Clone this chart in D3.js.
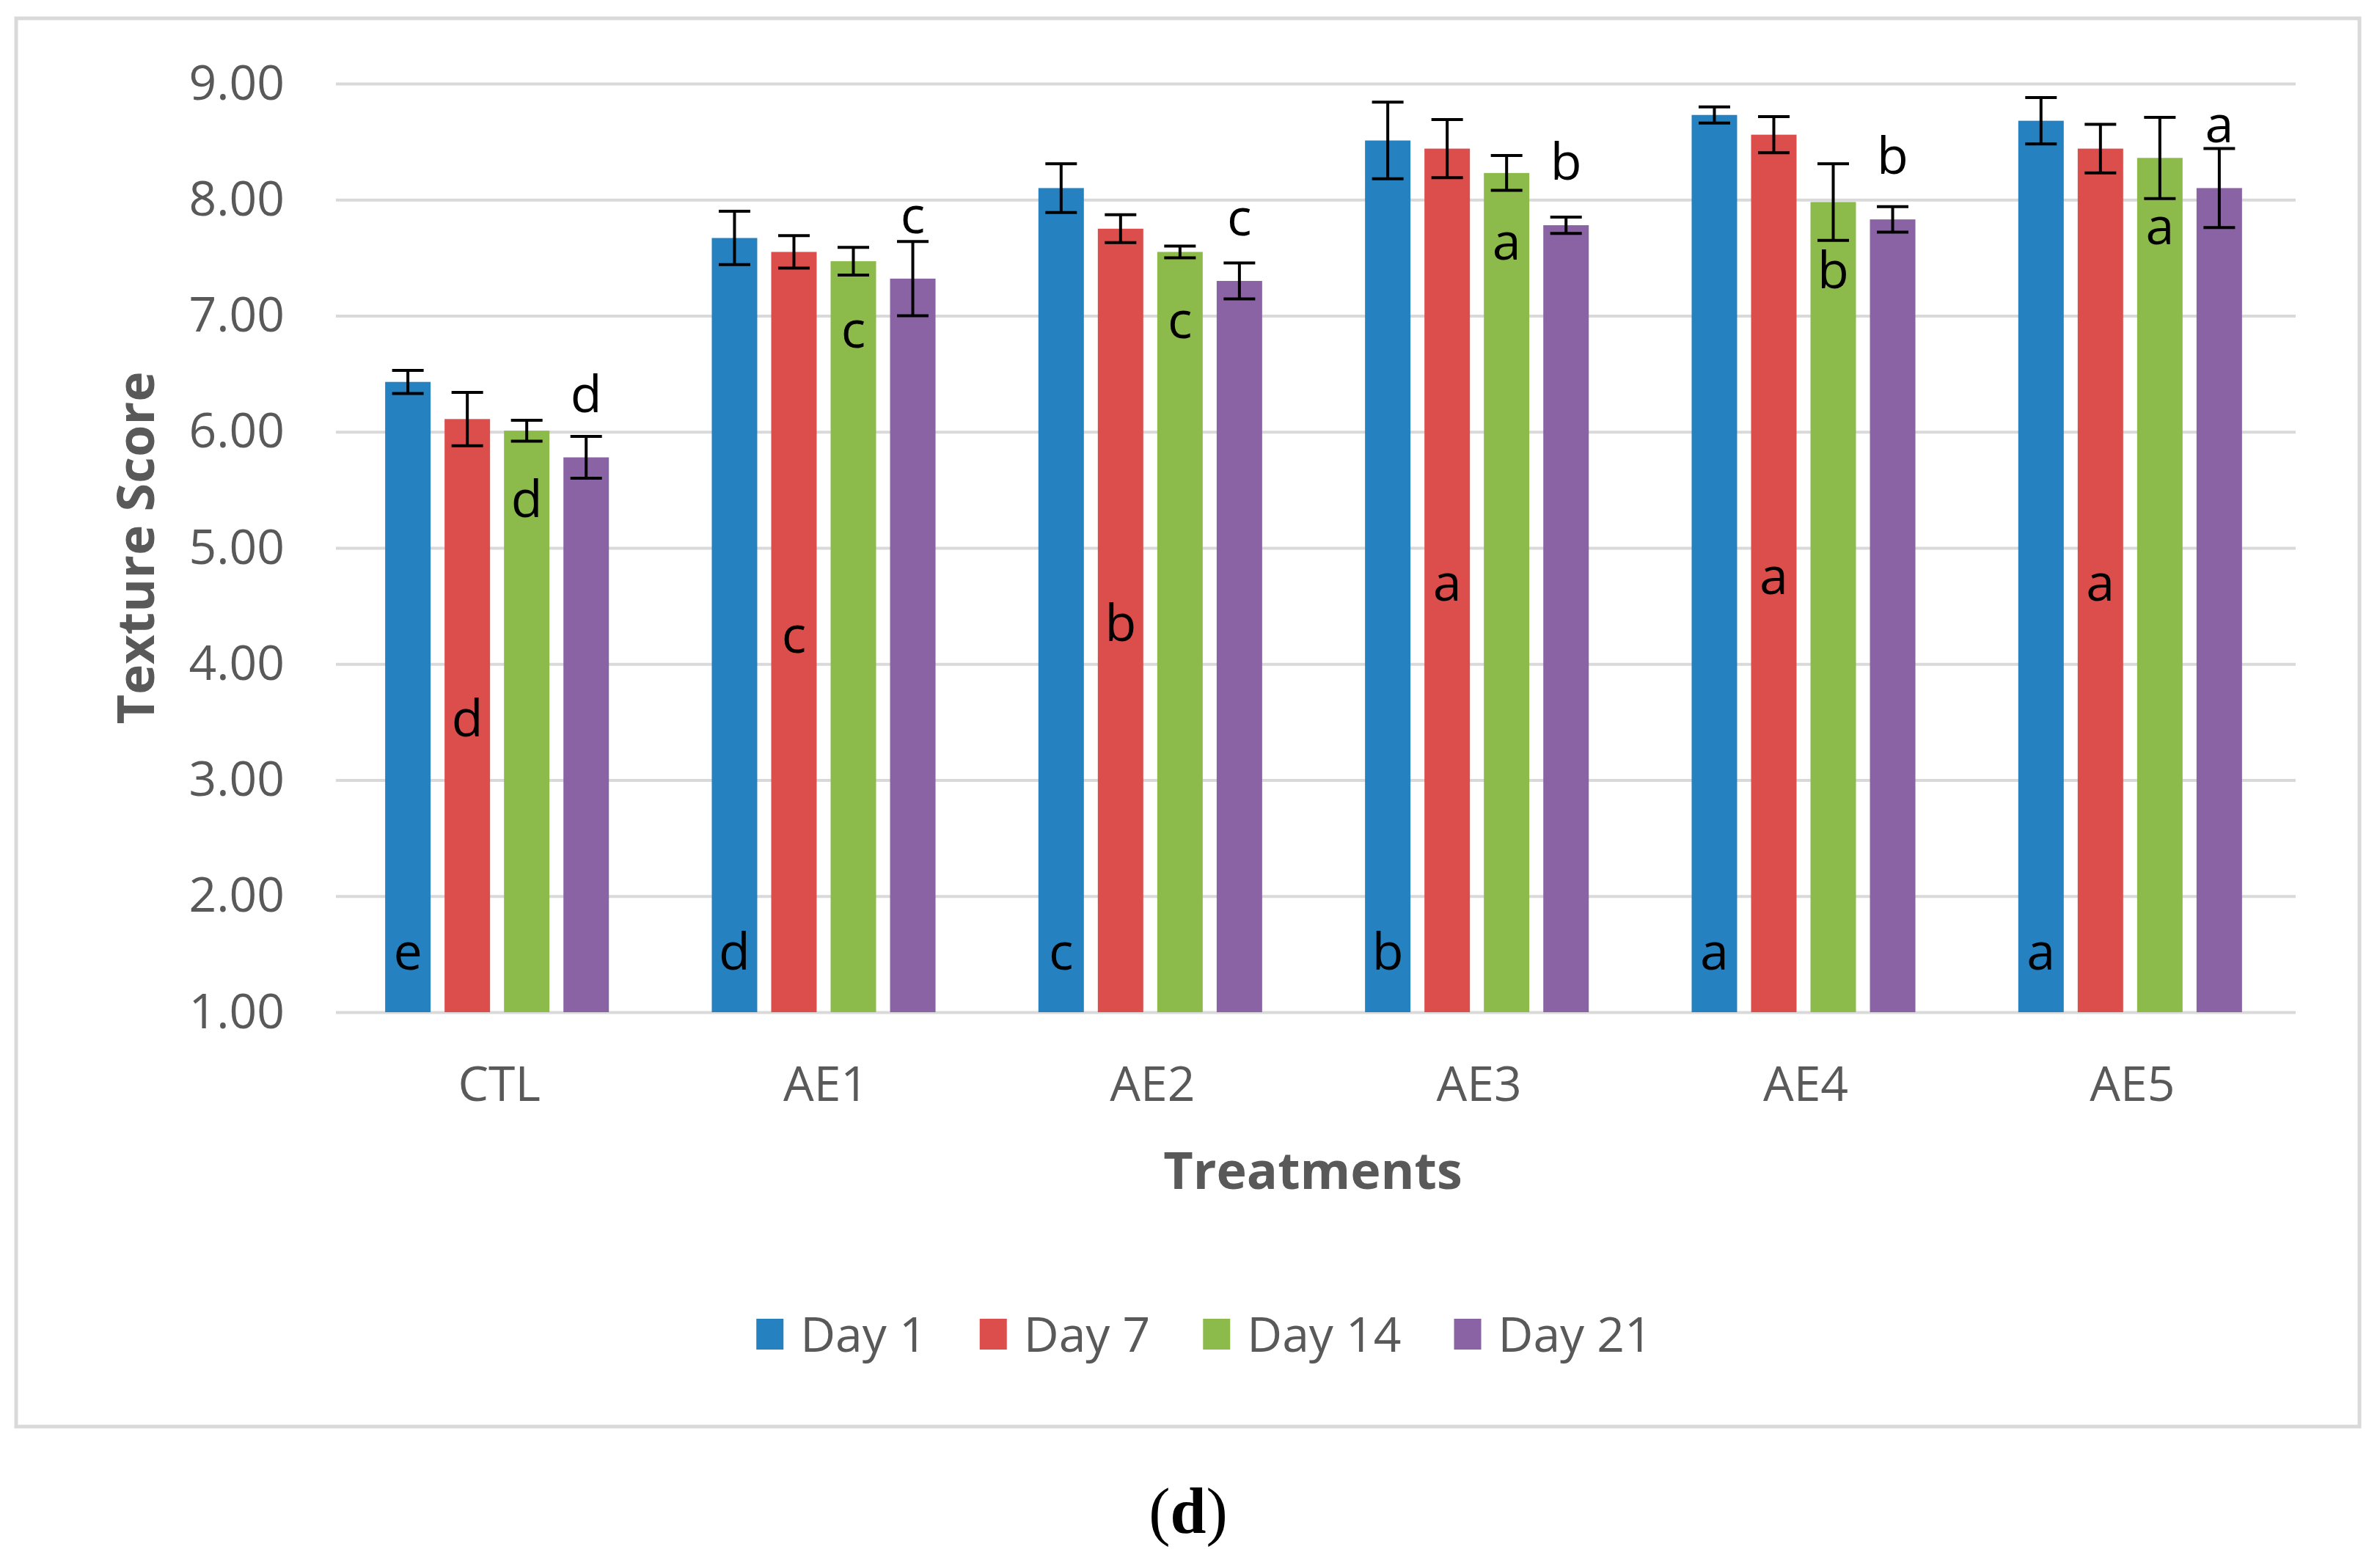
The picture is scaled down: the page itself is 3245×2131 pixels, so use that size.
<!DOCTYPE html>
<html>
<head>
<meta charset="utf-8">
<script src="https://cdn.jsdelivr.net/npm/d3@7"></script>
<style>
  body { margin: 0; background: #fff; }
  svg { display: block; }
</style>
</head>
<body>
<script>
// chart data
var treatments = ["CTL", "AE1", "AE2", "AE3", "AE4", "AE5"];
var seriesNames = ["Day 1", "Day 7", "Day 14", "Day 21"];

var day1  = [6.43, 7.67, 8.10, 8.51, 8.73, 8.68];
var day7  = [6.11, 7.55, 7.75, 8.44, 8.56, 8.44];
var day14 = [6.01, 7.47, 7.55, 8.23, 7.98, 8.36];
var day21 = [5.78, 7.32, 7.30, 7.78, 7.83, 8.10];

var day1Err  = [0.10, 0.23, 0.21, 0.33, 0.07, 0.20];
var day7Err  = [0.23, 0.14, 0.12, 0.25, 0.155, 0.21];
var day14Err = [0.09, 0.12, 0.05, 0.15, 0.33, 0.35];
var day21Err = [0.18, 0.32, 0.155, 0.07, 0.11, 0.34];

var day1Letters  = ["e", "d", "c", "b", "a", "a"];
var day7Letters  = ["d", "c", "b", "a", "a", "a"];
var day14Letters = ["d", "c", "c", "a", "b", "a"];
var day21Letters = ["d", "c", "c", "b", "b", "a"];

var yTicks = [1, 2, 3, 4, 5, 6, 7, 8, 9];

/***Sizes***/
var w = 3245, h = 2131;
var plotLeft = 458, plotRight = 3130, plotTop = 114, plotBottom = 1380;
var colors = ["#2681c1", "#dc4e4c", "#8cbb4c", "#8a63a4"];
// where Excel put each series' letter: inside base, centre, inside end, outside end
var labelPos = ["base", "center", "inEnd", "outEnd"];

var values = [day1, day7, day14, day21];
var errs = [day1Err, day7Err, day14Err, day21Err];
var letters = [day1Letters, day7Letters, day14Letters, day21Letters];

var rows = [];
treatments.forEach(function(t, i) {
  seriesNames.forEach(function(s, j) {
    rows.push({t: t, s: j, v: values[j][i], e: errs[j][i], l: letters[j][i]});
  });
});
var rowsOf = function(t) { return rows.filter(function(r) { return r.t === t; }); };

var svg = d3.select("body").append("svg")
            .attr("width", w)
            .attr("height", h);

// outer chart border
svg.append("rect")
   .attr("x", 22).attr("y", 25)
   .attr("width", 3195).attr("height", 1920)
   .attr("fill", "#fff")
   .attr("stroke", "#d9d9d9")
   .attr("stroke-width", 5);

/***Scales***/
var x0 = d3.scaleBand()
           .domain(treatments)
           .range([plotLeft, plotRight])
           .paddingInner(0.315)
           .paddingOuter(0.1575);
var x1 = d3.scaleBand()
           .domain(d3.range(seriesNames.length))
           .range([0, x0.bandwidth()])
           .paddingInner(0.235);
var yScale = d3.scaleLinear()
               .domain([1, 9])
               .range([plotBottom, plotTop]);

/***Axes***/
var yAxis = d3.axisLeft(yScale)
              .tickValues(yTicks)
              .tickFormat(d3.format(".2f"))
              .tickSize(-(plotRight - plotLeft))
              .tickPadding(70);
var gy = svg.append("g")
            .attr("transform", "translate(" + plotLeft + ",0)")
            .call(yAxis);
gy.select(".domain").remove();
gy.selectAll(".tick line").attr("stroke", "#d9d9d9").attr("stroke-width", 4);
gy.selectAll(".tick text")
  .attr("fill", "#595959")
  .style("font-family", "'Open Sans'")
  .style("font-size", "66px");

var xAxis = d3.axisBottom(x0).tickSize(0).tickPadding(74);
var gx = svg.append("g")
            .attr("transform", "translate(0," + plotBottom + ")")
            .call(xAxis);
gx.select(".domain").remove();
gx.selectAll(".tick text")
  .attr("fill", "#595959")
  .style("font-family", "'Open Sans'")
  .style("font-size", "66px");

/***Bars***/
var groups = svg.selectAll(".grp")
                .data(treatments)
                .enter().append("g")
                .attr("class", "grp")
                .attr("transform", function(d) { return "translate(" + (x0(d) - 3) + ",0)"; });

groups.selectAll("rect")
      .data(rowsOf)
      .enter().append("rect")
      .attr("x", function(d) { return x1(d.s); })
      .attr("width", x1.bandwidth())
      .attr("y", function(d) { return yScale(d.v); })
      .attr("height", function(d) { return yScale(1) - yScale(d.v); })
      .attr("fill", function(d) { return colors[d.s]; });

/***Error bars***/
var capW = 43;
var cx = function(d) { return x1(d.s) + x1.bandwidth() / 2; };
var eb = groups.selectAll(".err")
               .data(rowsOf)
               .enter().append("g")
               .attr("class", "err")
               .attr("stroke", "#000")
               .attr("stroke-width", 4);
eb.append("line")
  .attr("x1", cx)
  .attr("x2", cx)
  .attr("y1", function(d) { return yScale(d.v + d.e); })
  .attr("y2", function(d) { return yScale(d.v - d.e); });
[1, -1].forEach(function(sgn) {
  eb.append("line")
    .attr("x1", function(d) { return cx(d) - capW / 2; })
    .attr("x2", function(d) { return cx(d) + capW / 2; })
    .attr("y1", function(d) { return yScale(d.v + sgn * d.e); })
    .attr("y2", function(d) { return yScale(d.v + sgn * d.e); });
});

/***Letter labels***/
groups.selectAll(".lbl")
      .data(rowsOf)
      .enter().append("text")
      .attr("class", "lbl")
      .attr("x", cx)
      .attr("y", function(d) {
        var p = labelPos[d.s];
        if (p === "base") return yScale(1) - 58;
        if (p === "center") return (yScale(1) + yScale(d.v)) / 2 + 28;
        if (p === "inEnd") return yScale(d.v) + 118;
        return yScale(d.v) - 62;
      })
      .attr("text-anchor", "middle")
      .attr("fill", "#000")
      .style("font-family", "'Open Sans'")
      .style("font-size", "70px")
      .text(function(d) { return d.l; });

/***Axis titles***/
svg.append("text")
   .attr("transform", "translate(210," + (plotTop + plotBottom) / 2 + ") rotate(-90)")
   .attr("text-anchor", "middle")
   .attr("fill", "#595959")
   .style("font-family", "'Open Sans'")
   .style("font-weight", "bold")
   .style("font-size", "70px")
   .text("Texture Score");

svg.append("text")
   .attr("x", (plotLeft + plotRight) / 2 - 4)
   .attr("y", 1621)
   .attr("text-anchor", "middle")
   .attr("fill", "#595959")
   .style("font-family", "'Open Sans'")
   .style("font-weight", "bold")
   .style("font-size", "70px")
   .text("Treatments");

/***Legend***/
var legend = svg.append("g");
var lx = 0;
seriesNames.forEach(function(s, i) {
  var item = legend.append("g").attr("transform", "translate(" + lx + ",0)");
  item.append("rect")
      .attr("x", 0).attr("y", -21)
      .attr("width", 37).attr("height", 42)
      .attr("fill", colors[i]);
  var t = item.append("text")
              .attr("x", 60)
              .attr("y", 24)
              .attr("fill", "#595959")
              .style("font-family", "'Open Sans'")
              .style("font-size", "66px")
              .text(s);
  lx += 60 + t.node().getComputedTextLength() + 72;
});
var legW = lx - 72;
legend.attr("transform", "translate(" + (1642 - legW / 2) + ",1819)");

/***Panel caption***/
svg.append("text")
   .attr("x", 1620)
   .attr("y", 2090)
   .attr("text-anchor", "middle")
   .attr("fill", "#000")
   .style("font-family", "'Liberation Serif'")
   .style("font-size", "88px")
   .html("(<tspan font-weight='bold'>d</tspan>)");
</script>
</body>
</html>
